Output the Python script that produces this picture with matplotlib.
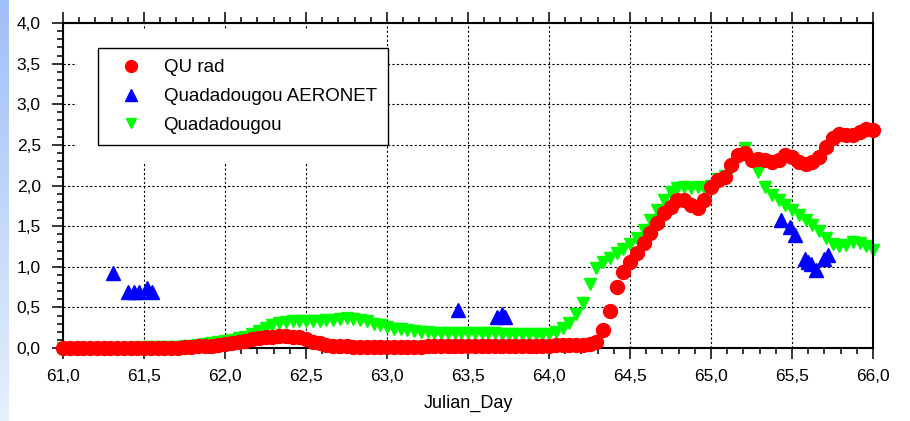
import matplotlib
matplotlib.use("Agg")
import matplotlib.pyplot as plt
import numpy as np
from matplotlib.ticker import MultipleLocator, FuncFormatter
from matplotlib.patches import Rectangle

plt.rcParams["font.family"] = ["Liberation Sans", "DejaVu Sans"]

# hourly samples, 61.0 .. 66.0
qu_rad = [
    0.00, 0.00, 0.00, 0.00, 0.00, 0.00, 0.00, 0.00, 0.00, 0.00, 0.00, 0.00,
    0.00, 0.00, 0.00, 0.00, 0.00, 0.00, 0.01, 0.01, 0.02, 0.02, 0.03, 0.04,
    0.05, 0.06, 0.08, 0.09, 0.11, 0.12, 0.13, 0.14, 0.15, 0.15, 0.14, 0.13,
    0.11, 0.08, 0.06, 0.04, 0.03, 0.02, 0.02, 0.01, 0.01, 0.01, 0.01, 0.01,
    0.01, 0.01, 0.01, 0.01, 0.01, 0.01, 0.02, 0.02, 0.02, 0.02, 0.02, 0.02,
    0.02, 0.02, 0.02, 0.02, 0.03, 0.03, 0.03, 0.03, 0.03, 0.03, 0.03, 0.03,
    0.03, 0.04, 0.04, 0.04, 0.04, 0.04, 0.05, 0.07, 0.22, 0.46, 0.75, 0.94,
    1.06, 1.17, 1.29, 1.41, 1.54, 1.66, 1.74, 1.82, 1.82, 1.76, 1.72, 1.82,
    1.98, 2.07, 2.10, 2.25, 2.38, 2.40, 2.31, 2.33, 2.31, 2.29, 2.31, 2.37,
    2.35, 2.29, 2.27, 2.29, 2.35, 2.47, 2.58, 2.64, 2.62, 2.62, 2.66, 2.70,
    2.68,
]

quadadougou = [
    0.00, 0.00, 0.00, 0.00, 0.00, 0.00, 0.00, 0.00, 0.00, 0.00, 0.00, 0.00,
    0.01, 0.01, 0.01, 0.01, 0.01, 0.01, 0.02, 0.03, 0.04, 0.05, 0.06, 0.07,
    0.09, 0.10, 0.12, 0.14, 0.17, 0.21, 0.25, 0.28, 0.31, 0.32, 0.33, 0.33,
    0.33, 0.33, 0.33, 0.34, 0.35, 0.36, 0.37, 0.36, 0.35, 0.33, 0.30, 0.28,
    0.26, 0.24, 0.23, 0.22, 0.21, 0.20, 0.20, 0.19, 0.19, 0.19, 0.19, 0.18,
    0.18, 0.18, 0.18, 0.18, 0.18, 0.17, 0.17, 0.17, 0.17, 0.17, 0.17, 0.17,
    0.17, 0.20, 0.25, 0.31, 0.42, 0.55, 0.79, 0.98, 1.06, 1.11, 1.17, 1.22,
    1.28, 1.36, 1.45, 1.58, 1.70, 1.82, 1.92, 1.97, 1.98, 1.97, 1.98, 1.97,
    2.00, 2.08, 2.12, 2.20, 2.35, 2.46, 2.33, 2.17, 1.98, 1.88, 1.82, 1.76,
    1.70, 1.64, 1.58, 1.51, 1.44, 1.36, 1.28, 1.25, 1.27, 1.30, 1.29, 1.26,
    1.21,
]

aeronet_day = [61.31, 61.40, 61.44, 61.47, 61.52, 61.55, 63.44, 63.68, 63.71,
               63.73, 65.43, 65.49, 65.52, 65.58, 65.60, 65.62, 65.65, 65.70,
               65.72]
aeronet_aot = [0.92, 0.69, 0.69, 0.69, 0.74, 0.69, 0.47, 0.38, 0.42,
               0.38, 1.58, 1.49, 1.39, 1.10, 1.06, 1.04, 0.96, 1.10,
               1.14]

hours = np.arange(len(qu_rad))
days = 61.0 + hours / 24.0

fig = plt.figure(figsize=(9.10, 4.21), dpi=100)

# slide background strip on the left
bg = fig.add_axes([0, 0, 0.0095, 1])
grad = np.linspace(0, 1, 100).reshape(-1, 1)
c_top = np.array([0.62, 0.75, 0.97])
c_bot = np.array([0.90, 0.94, 0.99])
img = c_top + (c_bot - c_top) * grad[:, :, None]
bg.imshow(img, aspect="auto", extent=[0, 1, 0, 1])
bg.set_axis_off()

ax = fig.add_axes([63 / 910, 73 / 421, 810 / 910, 325 / 421])

ax.plot(days, qu_rad, "o", color="#ff0000", ms=10, mec="#ff0000",
        label="QU rad", clip_on=False, zorder=3)
ax.plot(aeronet_day, aeronet_aot, "^", color="#0000ff", ms=9.5, mec="#0000ff",
        label="Quadadougou AERONET", clip_on=False, zorder=4)
ax.plot(days, quadadougou, "v", color="#00ff00", ms=9, mec="#00ff00",
        label="Quadadougou", clip_on=False, zorder=2)

ax.set_xlim(61, 66)
ax.set_ylim(0, 4)
ax.xaxis.set_major_locator(MultipleLocator(0.5))
ax.xaxis.set_minor_locator(MultipleLocator(0.1))
ax.yaxis.set_major_locator(MultipleLocator(0.5))
ax.yaxis.set_minor_locator(MultipleLocator(0.1))
comma = FuncFormatter(lambda v, p: f"{v:.1f}".replace(".", ","))
ax.xaxis.set_major_formatter(comma)
ax.yaxis.set_major_formatter(comma)

ax.tick_params(which="both", direction="out", top=True, right=False,
               width=1.1, colors="black", labelsize=12.5)
ax.tick_params(which="major", length=8)
ax.tick_params(which="minor", length=4.3)
ax.tick_params(axis="x", pad=7)
ax.tick_params(axis="y", pad=8)

for s in ax.spines.values():
    s.set_linewidth(1.5)

ax.grid(True, which="major", color="black", linestyle=(0, (2, 2)),
        linewidth=0.8)
ax.set_axisbelow(True)

ax.set_xlabel("Julian_Day", fontsize=13, labelpad=8)

# white area around the legend box
ax.add_patch(Rectangle((14 / 810, (348 - 162) / 325), (384 - 77) / 810,
                       (162 - 30) / 325, transform=ax.transAxes,
                       facecolor="white", edgecolor="none", zorder=1.5))

leg = ax.legend(loc="upper left", bbox_to_anchor=(35 / 810, 300 / 325),
                borderaxespad=0, fontsize=13.5, frameon=True, fancybox=False,
                edgecolor="black", framealpha=1, borderpad=0.6,
                handlelength=2.3, handletextpad=0.6, labelspacing=0.62,
                markerscale=0.85)
leg.get_frame().set_linewidth(1.0)

fig.savefig("out.png", dpi=100)
